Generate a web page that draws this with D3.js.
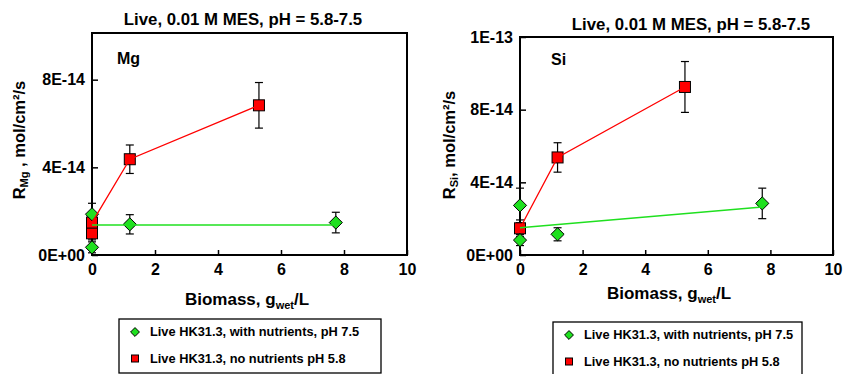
<!DOCTYPE html>
<html>
<head>
<meta charset="utf-8">
<script src="https://cdn.jsdelivr.net/npm/d3@7"></script>
<style>
  body { margin: 0; background: #fff; }
  svg { font-family: "Liberation Sans", Arial, sans-serif; font-weight: bold; }
</style>
</head>
<body>
<svg id="chart" width="844" height="374"></svg>
<script>
// ---- data ----
var xTickVals = [0, 2, 4, 6, 8, 10];
var seriesNames = ["Live HK31.3, with nutrients, pH 7.5", "Live HK31.3, no nutrients pH 5.8"];

// Mg panel
var mgNutrX = [0, 0, 1.2, 7.74];
var mgNutrY = [1.86e-14, 0.35e-14, 1.40e-14, 1.48e-14];
var mgNutrErr = [0.5e-14, 0.25e-14, 0.44e-14, 0.47e-14];
var mgNutrFitX = [0, 7.74];
var mgNutrFitY = [1.37e-14, 1.37e-14];
var mgNoNutrX = [0, 0, 1.2, 5.3];
var mgNoNutrY = [0.99e-14, 1.48e-14, 4.37e-14, 6.83e-14];
var mgNoNutrErr = [0.3e-14, 0.3e-14, 0.65e-14, 1.04e-14];
var mgNoNutrLineX = [0, 1.2, 5.3];
var mgNoNutrLineY = [1.48e-14, 4.37e-14, 6.83e-14];
var mgYTicks = [0, 4e-14, 8e-14];

// Si panel
var siNutrX = [0, 0, 1.2, 7.74];
var siNutrY = [2.73e-14, 0.82e-14, 1.14e-14, 2.84e-14];
var siNutrErr = [0.95e-14, 0.3e-14, 0.36e-14, 0.84e-14];
var siNutrFitX = [0, 7.74];
var siNutrFitY = [1.50e-14, 2.64e-14];
var siNoNutrX = [0, 1.2, 5.27];
var siNoNutrY = [1.47e-14, 5.37e-14, 9.25e-14];
var siNoNutrErr = [0.46e-14, 0.81e-14, 1.4e-14];
var siYTicks = [0, 4e-14, 8e-14, 1.2e-13];

var zip = (xs, ys, es) => xs.map((x, i) => ({ x: x, y: ys[i], e: es ? es[i] : 0 }));

function fmtE(v) {
  var s = d3.format(".0e")(v).toUpperCase();
  return s.replace(/E([+-])(\d)$/, "E$10$2");
}

var svg = d3.select("#chart");

function panel(p) {
  var g = svg.append("g");
  var x = d3.scaleLinear().domain([0, 10]).range([p.left, p.right]);
  var y = d3.scaleLinear().domain([0, p.yMax]).range([p.bottom, p.top]);

  // title
  g.append("text").attr("x", p.titleX).attr("y", p.titleY)
    .attr("text-anchor", "middle").style("font-size", "16.8px")
    .text("Live, 0.01 M MES, pH = 5.8-7.5");

  // axes
  g.append("g").attr("transform", "translate(0," + p.bottom + ")")
    .call(d3.axisBottom(x).tickValues(xTickVals).tickSizeInner(-5).tickSizeOuter(0).tickPadding(9))
    .call((a) => a.select(".domain").remove())
    .call((a) => a.selectAll("text").style("font-size", "16px").style("font-family", "inherit"))
    .call((a) => a.selectAll("line").attr("stroke-width", 1.5));

  g.append("g").attr("transform", "translate(" + p.left + ",0)")
    .call(d3.axisLeft(y).tickValues(p.yTicks).tickFormat(fmtE).tickSizeInner(-6).tickSizeOuter(0).tickPadding(7))
    .call((a) => a.select(".domain").remove())
    .call((a) => a.selectAll("text").style("font-size", "16px").style("font-family", "inherit"))
    .call((a) => a.selectAll("line").attr("stroke-width", 1.5));

  // frame
  g.append("rect").attr("x", p.left).attr("y", p.top)
    .attr("width", p.right - p.left).attr("height", p.bottom - p.top)
    .attr("fill", "none").attr("stroke", "#000").attr("stroke-width", 2);

  // axis titles
  var xt = g.append("text").attr("x", p.xTitleX).attr("y", p.xTitleY)
    .attr("text-anchor", "middle").style("font-size", "17px");
  xt.append("tspan").text("Biomass, g");
  xt.append("tspan").attr("dy", 4).style("font-size", "11px").text("wet");
  xt.append("tspan").attr("dy", -4).text("/L");

  var yt = g.append("text")
    .attr("transform", "translate(" + p.yTitleX + "," + p.yTitleY + ") rotate(-90)")
    .attr("text-anchor", "middle").style("font-size", "16.5px");
  yt.append("tspan").text("R");
  yt.append("tspan").attr("dy", 3).style("font-size", "11px").text(p.elem);
  yt.append("tspan").attr("dy", -3).text(p.ySuffix);

  // element label
  g.append("text").attr("x", p.elemX).attr("y", p.elemY)
    .style("font-size", "16px").text(p.elem);

  // error bars
  var allPts = p.nutr.concat(p.noNutr).filter((d) => d.e > 0);
  var eb = g.append("g").attr("stroke", "#000").attr("stroke-width", 1.2);
  allPts.forEach((d) => {
    eb.append("line").attr("x1", x(d.x)).attr("x2", x(d.x))
      .attr("y1", y(d.y - d.e)).attr("y2", y(d.y + d.e));
    [d.y - d.e, d.y + d.e].forEach((v) => {
      eb.append("line").attr("x1", x(d.x) - 4).attr("x2", x(d.x) + 4)
        .attr("y1", y(v)).attr("y2", y(v));
    });
  });

  // markers
  g.selectAll(".sq").data(p.noNutr).enter().append("rect")
    .attr("x", (d) => x(d.x) - 5.5).attr("y", (d) => y(d.y) - 5.5)
    .attr("width", 11).attr("height", 11)
    .attr("fill", "#f00").attr("stroke", "#000").attr("stroke-width", 1);

  g.selectAll(".dm").data(p.nutr).enter().append("path")
    .attr("d", d3.symbol(d3.symbolDiamond2, 110))
    .attr("transform", (d) => "translate(" + x(d.x) + "," + y(d.y) + ")")
    .attr("fill", "#1fe01f").attr("stroke", "#000").attr("stroke-width", 1);

  // lines
  var line = d3.line().x((d) => x(d.x)).y((d) => y(d.y));
  g.append("path").datum(p.noNutrLine).attr("d", line)
    .attr("fill", "none").attr("stroke", "#f00").attr("stroke-width", 1.3);
  g.append("path").datum(p.nutrFit).attr("d", line)
    .attr("fill", "none").attr("stroke", "#1fe01f").attr("stroke-width", 1.5);

  // legend
  var lg = g.append("g");
  lg.append("rect").attr("x", p.legX).attr("y", p.legY)
    .attr("width", p.legW).attr("height", 54)
    .attr("fill", "#fff").attr("stroke", "#000").attr("stroke-width", 1.3);
  seriesNames.forEach((name, i) => {
    var cy = p.legY + 13 + i * 26.5;
    if (i === 0) {
      lg.append("path").attr("d", d3.symbol(d3.symbolDiamond2, 50))
        .attr("transform", "translate(" + (p.legX + 16) + "," + cy + ")")
        .attr("fill", "#1fe01f").attr("stroke", "#000").attr("stroke-width", 1);
    } else {
      lg.append("rect").attr("x", p.legX + 12.5).attr("y", cy - 3.5)
        .attr("width", 7).attr("height", 7)
        .attr("fill", "#f00").attr("stroke", "#000").attr("stroke-width", 1);
    }
    lg.append("text").attr("x", p.legX + 31).attr("y", cy).attr("dy", "0.35em")
      .style("font-size", "12.8px").text(name);
  });
}

panel({
  left: 92, right: 407, top: 33, bottom: 255, yMax: 1.013e-13, yTicks: mgYTicks,
  titleX: 243, titleY: 25, xTitleX: 247, xTitleY: 305, yTitleX: 25, yTitleY: 140,
  elem: "Mg", ySuffix: " , mol/cm\u00b2/s", elemX: 117, elemY: 64,
  nutr: zip(mgNutrX, mgNutrY, mgNutrErr),
  noNutr: zip(mgNoNutrX, mgNoNutrY, mgNoNutrErr),
  noNutrLine: zip(mgNoNutrLineX, mgNoNutrLineY),
  nutrFit: zip(mgNutrFitX, mgNutrFitY),
  legX: 119, legY: 319, legW: 262
});

panel({
  left: 520, right: 833, top: 37, bottom: 255, yMax: 1.2e-13, yTicks: siYTicks,
  titleX: 691, titleY: 30, xTitleX: 669, xTitleY: 299, yTitleX: 455, yTitleY: 145,
  elem: "Si", ySuffix: ", mol/cm\u00b2/s", elemX: 551, elemY: 65,
  nutr: zip(siNutrX, siNutrY, siNutrErr),
  noNutr: zip(siNoNutrX, siNoNutrY, siNoNutrErr),
  noNutrLine: zip(siNoNutrX, siNoNutrY),
  nutrFit: zip(siNutrFitX, siNutrFitY),
  legX: 553, legY: 322, legW: 249
});
</script>
</body>
</html>
